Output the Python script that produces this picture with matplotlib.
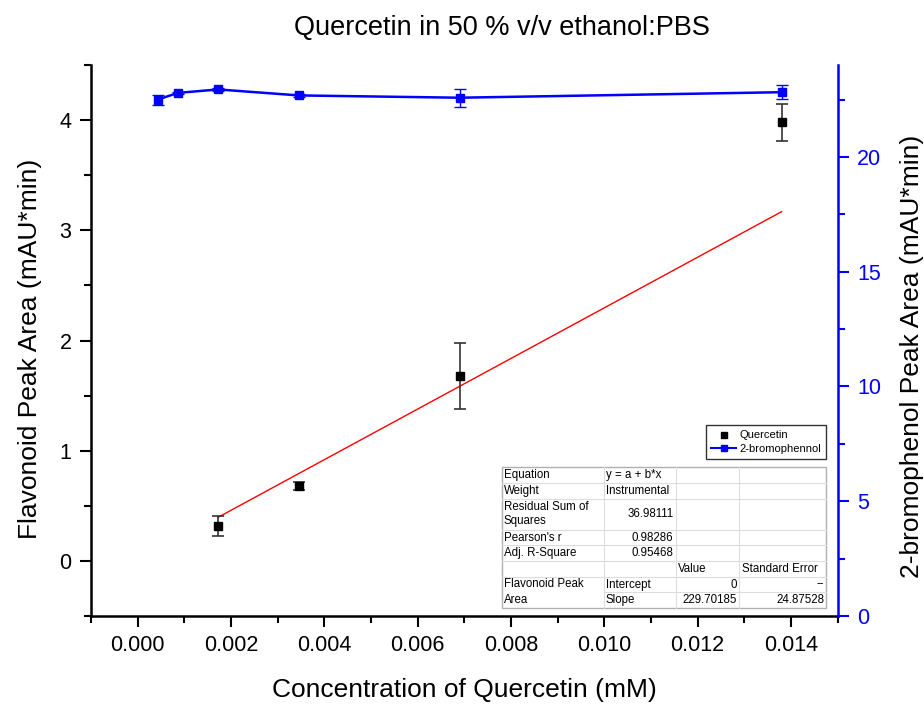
import matplotlib
matplotlib.use("Agg")
import matplotlib.pyplot as plt
from matplotlib.lines import Line2D
from matplotlib.ticker import MultipleLocator, FormatStrFormatter
import numpy as np

plt.rcParams['font.family'] = ['Liberation Sans', 'DejaVu Sans']

# Quercetin (left axis)
conc_q = [0.001725, 0.00345, 0.0069, 0.0138]
area_q = [0.32, 0.68, 1.68, 3.98]
err_q = [0.09, 0.033, 0.30, 0.166]

# 2-bromophenol internal standard (right axis)
conc_b = [0.000431, 0.000862, 0.001725, 0.00345, 0.0069, 0.0138]
area_b = [22.50, 22.79, 22.94, 22.68, 22.58, 22.82]
err_b = [0.22, 0.05, 0.08, 0.08, 0.39, 0.31]

# linear fit result (intercept fixed at 0)
intercept = 0.0
slope = 229.70185

# fit report table
table_rows = [
    ["Equation", "y = a + b*x", "", ""],
    ["Weight", "Instrumental", "", ""],
    ["Residual Sum of\nSquares", "36.98111", "", ""],
    ["Pearson's r", "0.98286", "", ""],
    ["Adj. R-Square", "0.95468", "", ""],
    ["", "", "Value", "Standard Error"],
    ["Flavonoid Peak", "Intercept", "0", "--"],
    ["Area", "Slope", "229.70185", "24.87528"],
]

fig = plt.figure(figsize=(9.24, 7.04), dpi=100)
ax = fig.add_axes([0.0985, 0.125, 0.808, 0.7825])
ax2 = ax.twinx()

# left axis data
ax.errorbar(conc_q, area_q, yerr=err_q, fmt='s', color='black', ms=5.5,
            ecolor='#333333', elinewidth=1.2, capsize=4.5, capthick=1.2, zorder=3)
xfit = np.array([conc_q[0], conc_q[-1]])
ax.plot(xfit, intercept + slope * xfit, color='red', lw=1.0, zorder=2)

# right axis data
ax2.errorbar(conc_b, area_b, yerr=err_b, fmt='-s', color='blue', ms=6,
             lw=1.8, ecolor='blue', elinewidth=1.0, capsize=4.5, capthick=1.0)

ax.set_xlim(-0.001, 0.015)
ax.set_ylim(-0.5, 4.5)
ax2.set_ylim(0, 24)

ax.xaxis.set_major_locator(MultipleLocator(0.002))
ax.xaxis.set_minor_locator(MultipleLocator(0.001))
ax.yaxis.set_major_locator(MultipleLocator(1))
ax.yaxis.set_minor_locator(MultipleLocator(0.5))
ax2.yaxis.set_major_locator(MultipleLocator(5))
ax2.yaxis.set_minor_locator(MultipleLocator(2.5))
ax.xaxis.set_major_formatter(FormatStrFormatter('%.3f'))

for a in (ax, ax2):
    a.spines['top'].set_visible(False)
ax.spines['left'].set_linewidth(1.8)
ax.spines['bottom'].set_linewidth(1.8)
ax.spines['right'].set_visible(False)
ax2.spines['left'].set_visible(False)
ax2.spines['bottom'].set_visible(False)
ax2.spines['right'].set_color('blue')
ax2.spines['right'].set_linewidth(1.8)

ax.tick_params(which='major', length=8, width=1.5, labelsize=15.5, direction='out', pad=6)
ax.tick_params(which='minor', length=5, width=1.5, direction='out')
ax2.tick_params(which='major', length=8, width=1.5, labelsize=15.5, colors='blue', pad=6)
ax2.tick_params(which='minor', length=5, width=1.5, colors='blue')

ax.set_xlabel('Concentration of Quercetin (mM)', fontsize=19)
ax.set_ylabel('Flavonoid Peak Area (mAU*min)', fontsize=19)
ax2.set_ylabel('2-bromophenol Peak Area (mAU*min)', fontsize=19)
ax.xaxis.set_label_coords(0.5, -0.134)
ax.yaxis.set_label_coords(-0.082, 0.485)
ax2.yaxis.set_label_coords(1.100, 0.472)
for lab in (ax.xaxis.label, ax.yaxis.label, ax2.yaxis.label):
    lab.set_va('center')
fig.text(0.543, 0.96, 'Quercetin in 50 % v/v ethanol:PBS', fontsize=19.5,
         ha='center', va='center')

# legend
handles = [
    Line2D([], [], ls='none', marker='s', color='black', ms=5),
    Line2D([], [], ls='-', marker='s', color='blue', ms=5, lw=1.5),
]
leg = ax2.legend(handles, ['Quercetin', '2-bromophennol'], loc='upper right',
                 bbox_to_anchor=(0.985, 0.347), fontsize=8, frameon=True,
                 fancybox=False, borderpad=0.5, labelspacing=0.3,
                 handlelength=2.2, handletextpad=0.3, borderaxespad=0)
leg.get_frame().set_edgecolor('black')
leg.get_frame().set_linewidth(1.0)

# fit table drawn in axes coordinates
x0, x1 = 0.550, 0.985
y0, y1 = 0.0145, 0.270
col_w = np.array([102, 72, 64, 87], dtype=float)
col_edges = x0 + np.concatenate([[0], np.cumsum(col_w)]) / col_w.sum() * (x1 - x0)
row_units = [1, 1, 2, 1, 1, 1, 1, 1]
unit_h = (y1 - y0) / sum(row_units)
tr = ax2.transAxes
fs = 8.3
ax2.add_patch(plt.Rectangle((x0, y0), x1 - x0, y1 - y0, transform=tr,
                            facecolor='white', edgecolor='#b0b0b0', lw=1.0, zorder=5))
ytop = y1
for r, (row, units) in enumerate(zip(table_rows, row_units)):
    h = unit_h * units
    ybot = ytop - h
    yc = ytop - h / 2
    if r < len(table_rows) - 1:
        # first column merged for the last two rows
        start = col_edges[1] if r == len(table_rows) - 2 else col_edges[0]
        ax2.plot([start, x1], [ybot, ybot], transform=tr, color='#dddddd', lw=0.8, zorder=6)
    for c, txt in enumerate(row):
        if not txt:
            continue
        if r == len(table_rows) - 2 and c == 0:
            ax2.text(col_edges[0] + 0.003, ybot, 'Flavonoid Peak\nArea', transform=tr,
                     fontsize=fs, ha='left', va='center', zorder=7, linespacing=1.45)
            continue
        if r == len(table_rows) - 1 and c == 0:
            continue
        numeric = txt[0].isdigit() or txt == '--'
        if numeric:
            ax2.text(col_edges[c + 1] - 0.003, yc, txt, transform=tr, fontsize=fs,
                     ha='right', va='center', zorder=7)
        else:
            ax2.text(col_edges[c] + 0.003, yc, txt, transform=tr, fontsize=fs,
                     ha='left', va='center', zorder=7, linespacing=1.2)
    ytop = ybot
for xe in col_edges[1:-1]:
    ax2.plot([xe, xe], [y0, y1], transform=tr, color='#dddddd', lw=0.8, zorder=6)

fig.savefig('out.png', dpi=100)
